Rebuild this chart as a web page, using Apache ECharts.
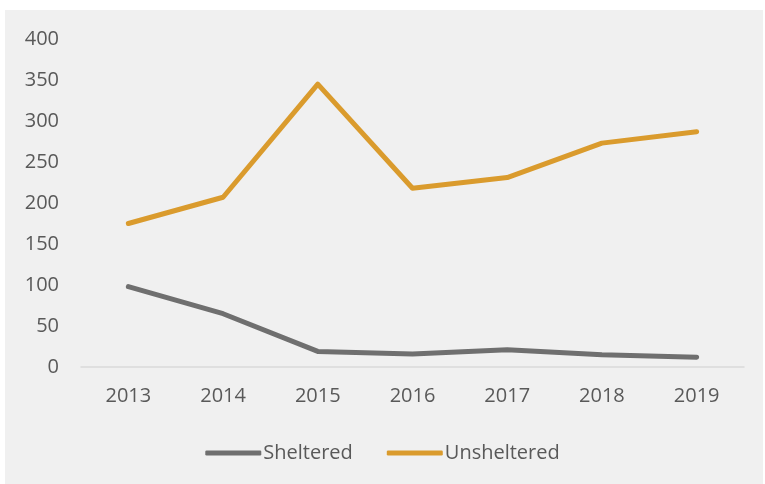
<!DOCTYPE html>
<html>
<head>
<meta charset="utf-8">
<script src="https://cdn.jsdelivr.net/npm/echarts@6/dist/echarts.min.js"></script>
<style>
html,body{margin:0;padding:0;background:#ffffff;}
#chart{width:765px;height:484px;}
</style>
</head>
<body>
<div id="chart"></div>
<script>
var years = ['2013','2014','2015','2016','2017','2018','2019'];
var sheltered = [98, 65, 19, 16, 21, 15, 12];
var unsheltered = [175, 207, 345, 218, 231, 273, 287];
var yTicks = [0, 50, 100, 150, 200, 250, 300, 350, 400];

var chart = echarts.init(document.getElementById('chart'), null, {renderer: 'canvas'});
var font = '"Open Sans", "Noto Sans", sans-serif';
var textColor = '#595959';
chart.setOption({
  animation: false,
  backgroundColor: '#ffffff',
  graphic: [{
    type: 'rect', z: -10, silent: true,
    shape: {x: 5, y: 10, width: 758, height: 474},
    style: {fill: '#f0f0f0'}
  }],
  grid: {left: 81, right: 21, top: 39, bottom: 117, containLabel: false},
  legend: {
    bottom: 16,
    left: 'center',
    itemWidth: 56,
    itemHeight: 5,
    itemGap: 34,
    icon: 'roundRect',
    textStyle: {color: textColor, fontFamily: font, fontSize: 20, padding: [0, 0, 0, -3]},
    data: ['Sheltered', 'Unsheltered']
  },
  xAxis: {
    type: 'category',
    data: years,
    boundaryGap: true,
    axisLine: {show: true, lineStyle: {color: '#d9d9d9', width: 1.5}},
    axisTick: {show: false},
    axisLabel: {color: textColor, fontFamily: font, fontSize: 20, margin: 19}
  },
  yAxis: {
    type: 'value',
    min: yTicks[0],
    max: yTicks[yTicks.length - 1],
    interval: 50,
    splitLine: {show: false},
    axisLine: {show: false},
    axisTick: {show: false},
    axisLabel: {color: textColor, fontFamily: font, fontSize: 20, margin: 22}
  },
  series: [{
    name: 'Sheltered',
    type: 'line',
    data: sheltered,
    symbol: 'none',
    lineStyle: {color: '#6f6f6f', width: 5, cap: 'round', join: 'round'},
    itemStyle: {color: '#6f6f6f'}
  }, {
    name: 'Unsheltered',
    type: 'line',
    data: unsheltered,
    symbol: 'none',
    lineStyle: {color: '#da9b2d', width: 5, cap: 'round', join: 'round'},
    itemStyle: {color: '#da9b2d'}
  }]
});
</script>
</body>
</html>
